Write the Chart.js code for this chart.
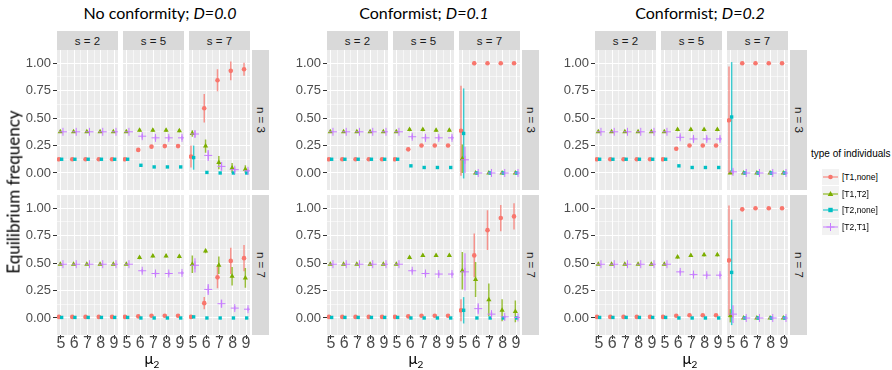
<!DOCTYPE html>
<html>
<head>
<meta charset="utf-8">
<script src="https://cdn.jsdelivr.net/npm/chart.js@4.4.1/dist/chart.umd.min.js"></script>
<style>
  body { margin: 0; background: #fff; width: 892px; height: 370px; position: relative; overflow: hidden; font-family: "Liberation Sans", Arial, sans-serif; }
  .abs { position: absolute; }
  .title { font-family: Lato, sans-serif; font-size: 16px; color: #000; transform: translateX(-50%); white-space: nowrap; top: 3px; }
  .strip { background: #d9d9d9; color: #1a1a1a; font-size: 11.5px; display: flex; align-items: center; justify-content: center; }
  .vstrip { writing-mode: vertical-rl; }
  .xlab { font-family: Lato, sans-serif; font-size: 15px; color: #000; transform: translateX(-50%); top: 349px; white-space: nowrap; }
  .ylab { font-family: Lato, sans-serif; font-size: 17px; color: #000; left: 13px; top: 192px; transform: translate(-50%, -50%) rotate(-90deg); white-space: nowrap; }
  .legtitle { font-size: 10px; color: #000; left: 811px; top: 148px; white-space: nowrap; }
  .legitem { font-size: 8.5px; color: #000; left: 822px; height: 16px; display: flex; align-items: center; white-space: nowrap; }
  .legitem svg { background: #f2f2f2; margin-right: 3px; }
</style>
</head>
<body>
<script>
const mu2 = [5, 6, 7, 8, 9]
const sLevels = ['s = 2', 's = 5', 's = 7']
const nLevels = ['n = 3', 'n = 7']
const seriesNames = ['[T1,none]', '[T1,T2]', '[T2,none]', '[T2,T1]']
const yTicks = [0, 0.25, 0.5, 0.75, 1]

// rows: n=3 s=2, n=3 s=5, n=3 s=7, n=7 s=2, n=7 s=5, n=7 s=7

// No conformity; D=0.0
const d00_T1none = [[.125,.125,.125,.125,.125],[.125,.21,.24,.245,.245],[.15,.59,.845,.93,.945],[.01,.01,.01,.01,.01],[.01,.015,.02,.02,.02],[.01,.135,.37,.52,.545]]
const d00_T1none_err = [[0,0,0,0,0],[0,.015,.015,.015,.015],[.1,.13,.1,.085,.06],[0,0,0,0,0],[0,.005,.005,.005,.005],[.01,.055,.1,.12,.12]]
const d00_T1T2 = [[.375,.375,.375,.375,.375],[.375,.39,.39,.39,.385],[.36,.245,.095,.045,.035],[.49,.49,.49,.49,.49],[.49,.55,.565,.565,.56],[.49,.61,.48,.38,.365]]
const d00_T1T2_err = [[0,0,0,0,0],[0,.015,.015,.015,.015],[.03,.06,.06,.045,.035],[0,0,0,0,0],[0,.015,.015,.015,.015],[.08,.02,.08,.085,.09]]
const d00_T2none = [[.125,.125,.125,.125,.125],[.125,.07,.055,.055,.055],[.14,.005,0,0,0],[.005,.005,.005,.005,.005],[.005,0,0,0,0],[.01,0,0,0,0]]
const d00_T2none_err = [[0,0,0,0,0],[0,.005,.005,.005,.005],[.11,0,0,0,0],[0,0,0,0,0],[0,0,0,0,0],[.01,0,0,0,0]]
const d00_T2T1 = [[.375,.375,.375,.375,.375],[.375,.335,.32,.32,.32],[.355,.16,.06,.03,.02],[.49,.49,.49,.49,.49],[.49,.43,.405,.405,.41],[.48,.26,.13,.09,.08]]
const d00_T2T1_err = [[0,0,0,0,0],[0,.02,.02,.02,.02],[.03,.05,.04,.02,.015],[0,0,0,0,0],[0,.015,.015,.015,.015],[.065,.05,.035,.02,.015]]

// Conformist; D=0.1
const d01_T1none = [[.125,.125,.125,.125,.125],[.125,.215,.25,.25,.25],[.385,1,1,1,1],[.01,.01,.01,.01,.01],[.01,.015,.02,.02,.02],[.07,.57,.8,.91,.925]]
const d01_T1none_err = [[0,0,0,0,0],[0,.015,.015,.015,.015],[.41,.02,.005,.005,.005],[0,0,0,0,0],[0,.005,.005,.005,.005],[.1,.2,.18,.12,.12]]
const d01_T1T2 = [[.375,.375,.375,.375,.375],[.375,.395,.395,.39,.39],[.13,0,0,0,0],[.49,.49,.49,.49,.49],[.49,.55,.57,.57,.57],[.43,.35,.165,.07,.06]]
const d01_T1T2_err = [[0,0,0,0,0],[0,.015,.015,.015,.015],[.13,0,0,0,0],[0,0,0,0,0],[0,.015,.015,.015,.015],[.17,.16,.15,.1,.1]]
const d01_T2none = [[.125,.125,.125,.125,.125],[.125,.065,.05,.05,.05],[.36,0,0,0,0],[.005,.005,.005,.005,.005],[.005,0,0,0,0],[.07,0,0,0,0]]
const d01_T2none_err = [[0,0,0,0,0],[0,.005,.005,.005,.005],[.41,0,0,0,0],[0,0,0,0,0],[0,0,0,0,0],[.12,0,0,0,0]]
const d01_T2T1 = [[.375,.375,.375,.375,.375],[.375,.33,.32,.32,.32],[.12,0,0,0,0],[.49,.49,.49,.49,.49],[.49,.43,.405,.4,.4],[.42,.085,.035,.01,.005]]
const d01_T2T1_err = [[0,0,0,0,0],[0,.02,.02,.02,.02],[.12,0,0,0,0],[0,0,0,0,0],[0,.015,.015,.015,.015],[.17,.05,.02,.01,.005]]

// Conformist; D=0.2
const d02_T1none = [[.125,.125,.125,.125,.125],[.125,.22,.25,.25,.25],[.48,1,1,1,1],[.01,.01,.01,.01,.01],[.01,.02,.025,.025,.025],[.525,.99,1,1,1]]
const d02_T1none_err = [[0,0,0,0,0],[0,.015,.015,.015,.015],[.49,0,0,0,0],[0,0,0,0,0],[0,.005,.005,.005,.005],[.5,.02,0,0,0]]
const d02_T1T2 = [[.375,.375,.375,.375,.375],[.375,.395,.395,.395,.395],[0,0,0,0,0],[.49,.49,.49,.49,.49],[.49,.555,.57,.575,.575],[.02,0,0,0,0]]
const d02_T1T2_err = [[0,0,0,0,0],[0,.015,.015,.015,.015],[.01,0,0,0,0],[0,0,0,0,0],[0,.015,.015,.015,.015],[.06,0,0,0,0]]
const d02_T2none = [[.125,.125,.125,.125,.125],[.125,.065,.05,.05,.05],[.51,0,0,0,0],[.005,.005,.005,.005,.005],[.005,0,0,0,0],[.415,0,0,0,0]]
const d02_T2none_err = [[0,0,0,0,0],[0,.005,.005,.005,.005],[.5,0,0,0,0],[0,0,0,0,0],[0,0,0,0,0],[.48,0,0,0,0]]
const d02_T2T1 = [[.375,.375,.375,.375,.375],[.375,.325,.31,.31,.31],[.01,0,0,0,0],[.49,.49,.49,.49,.49],[.49,.42,.395,.39,.39],[.035,0,0,0,0]]
const d02_T2T1_err = [[0,0,0,0,0],[0,.02,.02,.02,.02],[.02,0,0,0,0],[0,0,0,0,0],[0,.015,.015,.015,.015],[.08,0,0,0,0]]

const panels = [
  { title: 'No conformity; ', d: 'D=0.0', left: 57, titleX: 160, xlabX: 152,
    series: [[d00_T1none, d00_T1none_err], [d00_T1T2, d00_T1T2_err], [d00_T2none, d00_T2none_err], [d00_T2T1, d00_T2T1_err]] },
  { title: 'Conformist; ', d: 'D=0.1', left: 327, titleX: 424, xlabX: 416,
    series: [[d01_T1none, d01_T1none_err], [d01_T1T2, d01_T1T2_err], [d01_T2none, d01_T2none_err], [d01_T2T1, d01_T2T1_err]] },
  { title: 'Conformist; ', d: 'D=0.2', left: 595, titleX: 700, xlabX: 690,
    series: [[d02_T1none, d02_T1none_err], [d02_T1T2, d02_T1T2_err], [d02_T2none, d02_T2none_err], [d02_T2T1, d02_T2T1_err]] }
]

const colors = ['#F8766D', '#7CAE00', '#00BFC4', '#C77CFF']
const errColors = ['rgba(248,118,109,0.75)', 'rgba(124,174,0,0.75)', 'rgba(0,191,196,0.75)', 'rgba(199,124,255,0.75)']
const styles = ['circle', 'triangle', 'rect', 'cross']
const radii = [2.3, 3, 2.4, 4]
const dodge = [-0.15, -0.05, 0.05, 0.15]

const FW = 61, FH = 140, COLSTEP = 66
const rowTop = [50, 195]
const xGrid = [5, 5.5, 6, 6.5, 7, 7.5, 8, 8.5, 9]
const yGrid = [0, 0.125, 0.25, 0.375, 0.5, 0.625, 0.75, 0.875, 1]

const panelBg = {
  id: 'panelBg',
  beforeDraw(chart) {
    const { ctx, chartArea: a } = chart
    ctx.save()
    ctx.fillStyle = '#ebebeb'
    ctx.fillRect(a.left, a.top, a.right - a.left, a.bottom - a.top)
    ctx.restore()
  }
}

function el(cls, html, style) {
  const d = document.createElement('div')
  d.className = 'abs ' + cls
  d.innerHTML = html
  Object.assign(d.style, style)
  document.body.appendChild(d)
  return d
}

const isMajor = v => Math.abs(v - Math.round(v * 4) / 4) < 1e-9
const isInt = v => Math.abs(v - Math.round(v)) < 1e-9

// keep the chart area exactly where the facet should be
function noPad(s) {
  s.paddingTop = 0
  s.paddingBottom = 0
  s.paddingLeft = 0
  s.paddingRight = 0
}

function makeFacet(panel, row, col) {
  const idx = row * 3 + col
  const axW = col === 0 ? 40 : 0
  const axH = row === 1 ? 24 : 0
  const padL = row === 1 && col > 0 ? 5 : 0
  const padR = row === 1 ? 5 : 0
  const left = panel.left + col * COLSTEP
  const canvas = document.createElement('canvas')
  canvas.width = FW + axW + padL + padR
  canvas.height = FH + axH
  canvas.className = 'abs'
  canvas.style.left = (left - axW - padL) + 'px'
  canvas.style.top = rowTop[row] + 'px'
  document.body.appendChild(canvas)

  const datasets = []
  panel.series.forEach(([mean, err], k) => {
    const errData = []
    mu2.forEach((x, i) => {
      const m = mean[idx][i], e = err[idx][i]
      if (e > 0) {
        errData.push({ x: x + dodge[k], y: m - e }, { x: x + dodge[k], y: m + e }, { x: x + dodge[k], y: null })
      }
    })
    datasets.push({
      type: 'line', label: seriesNames[k] + ' err', data: errData, showLine: true, spanGaps: false,
      borderColor: errColors[k], borderWidth: 1.5, pointRadius: 0, order: 10 - k
    })
    datasets.push({
      type: 'scatter', label: seriesNames[k], data: mu2.map((x, i) => ({ x: x + dodge[k], y: mean[idx][i] })),
      pointStyle: styles[k], pointRadius: radii[k], backgroundColor: colors[k], borderColor: colors[k],
      borderWidth: k === 3 ? 1 : 0, order: 4 - k
    })
  })

  new Chart(canvas, {
    type: 'scatter',
    data: { datasets },
    options: {
      responsive: false,
      animation: false,
      events: [],
      layout: { padding: { left: padL, right: padR, top: 0, bottom: 0 }, autoPadding: false },
      plugins: { legend: { display: false }, tooltip: { enabled: false } },
      scales: {
        x: {
          type: 'linear', min: 4.7, max: 9.3,
          afterBuildTicks: s => { s.ticks = xGrid.map(v => ({ value: v })) },
          afterFit: s => { s.height = axH; noPad(s) },
          border: { display: false },
          grid: {
            color: c => isInt(c.tick.value) ? '#ffffff' : 'rgba(255,255,255,0.55)',
            lineWidth: 1,
            drawTicks: row === 1, tickLength: 4,
            tickColor: c => isInt(c.tick.value) ? '#333333' : 'rgba(0,0,0,0)'
          },
          ticks: {
            display: row === 1, autoSkip: false, maxRotation: 0, padding: -5,
            color: '#4d4d4d', font: { size: 16, family: '"Liberation Sans", Arial, sans-serif' },
            callback: v => isInt(v) ? String(v) : ''
          }
        },
        y: {
          type: 'linear', min: -0.155, max: 1.12,
          afterBuildTicks: s => { s.ticks = yGrid.map(v => ({ value: v })) },
          afterFit: s => { s.width = axW; noPad(s) },
          border: { display: false },
          grid: {
            color: c => isMajor(c.tick.value) ? '#ffffff' : 'rgba(255,255,255,0.55)',
            lineWidth: 1,
            drawTicks: col === 0, tickLength: 4,
            tickColor: c => isMajor(c.tick.value) ? '#333333' : 'rgba(0,0,0,0)'
          },
          ticks: {
            display: col === 0, autoSkip: false, padding: 2,
            color: '#4d4d4d', font: { size: 13, family: '"Liberation Sans", Arial, sans-serif' },
            callback: v => isMajor(v) ? v.toFixed(2) : ''
          }
        }
      }
    },
    plugins: [panelBg]
  })
}

panels.forEach(panel => {
  el('title', panel.title + '<i>' + panel.d + '</i>', { left: panel.titleX + 'px' })
  sLevels.forEach((s, c) => {
    el('strip', s, { left: (panel.left + c * COLSTEP) + 'px', top: '31px', width: FW + 'px', height: '19px' })
  })
  nLevels.forEach((n, r) => {
    el('strip vstrip', n, { left: (panel.left + 2 * COLSTEP + FW + 2) + 'px', top: rowTop[r] + 'px', width: '17px', height: FH + 'px' })
  })
  for (let r = 0; r < 2; r++) for (let c = 0; c < 3; c++) makeFacet(panel, r, c)
  el('xlab', 'μ<span style="font-size:10px;position:relative;top:4px">2</span>', { left: panel.xlabX + 'px' })
})

el('ylab', 'Equilibrium frequency', {})

// legend
el('legtitle', 'type of individuals', {})
seriesNames.forEach((name, k) => {
  const cy = 8
  let mark
  if (styles[k] === 'circle') mark = `<circle cx="8.5" cy="${cy}" r="2.3" fill="${colors[k]}"/>`
  else if (styles[k] === 'triangle') mark = `<polygon points="8.5,${cy - 3} 11.3,${cy + 2} 5.7,${cy + 2}" fill="${colors[k]}"/>`
  else if (styles[k] === 'rect') mark = `<rect x="6.3" y="${cy - 2.2}" width="4.4" height="4.4" fill="${colors[k]}"/>`
  else mark = `<path d="M8.5 ${cy - 4}V${cy + 4}M4.5 ${cy}H12.5" stroke="${colors[k]}" stroke-width="1"/>`
  const svg = `<svg width="17" height="16"><line x1="1" y1="${cy}" x2="16" y2="${cy}" stroke="${colors[k]}" stroke-width="1"/>${mark}</svg>`
  el('legitem', svg + name, { top: (169 + k * 16.5) + 'px' })
})
</script>
</body>
</html>
